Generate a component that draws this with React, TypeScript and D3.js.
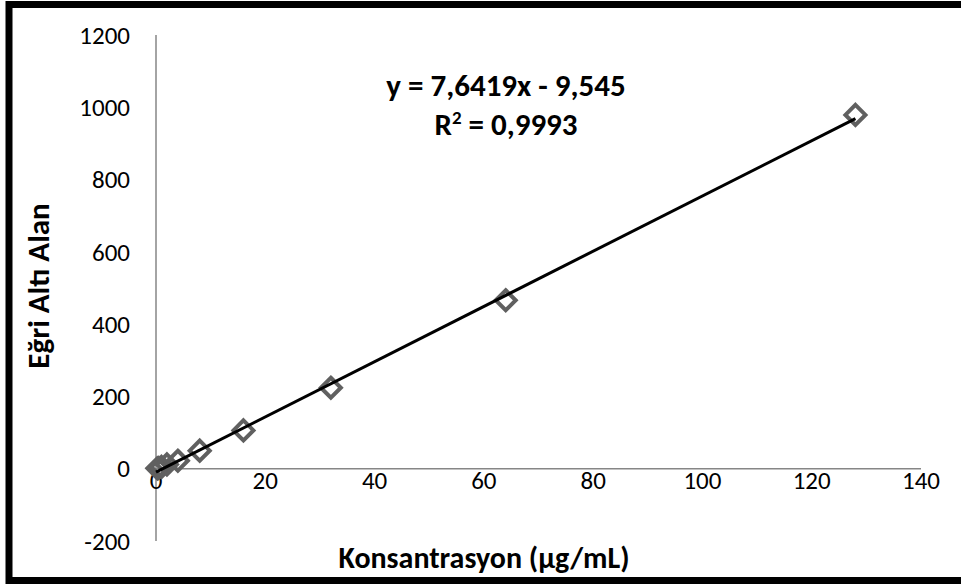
import React from "react";
import * as d3 from "d3";

const concentrations = [0.25, 0.5, 1, 2, 4, 8, 16, 32, 64, 128];
const areas = [1, 2, 5, 12, 22, 50, 106, 224, 466, 979];
const xTicks = [0, 20, 40, 60, 80, 100, 120, 140];
const yTicks = [-200, 0, 200, 400, 600, 800, 1000, 1200];
const slope = 7.6419;
const intercept = -9.545;
const equationText = "y = 7,6419x - 9,545";
const r2Label = "0,9993";
const xTitle = "Konsantrasyon (µg/mL)";
const yTitle = "Eğri Altı Alan";

export default function App() {
  const W = 961, H = 585;
  const x = d3.scaleLinear().domain([0, 140]).range([156, 921]);
  const y = d3.scaleLinear().domain([-200, 1200]).range([541, 35]);
  const font = "Carlito, Calibri, Lato, sans-serif";
  const axisColor = "#868686";
  const xs = d3.extent(concentrations) as [number, number];
  const line = d3.line<number>().x((d) => x(d)).y((d) => y(slope * d + intercept));
  const diamond = (cx: number, cy: number, r: number) =>
    `M${cx},${cy - r}L${cx + r},${cy}L${cx},${cy + r}L${cx - r},${cy}Z`;
  return (
    <svg width={W} height={H} style={{ position: "absolute", left: 0, top: 0, display: "block" }}>
      <rect x={0} y={0} width={W} height={H} fill="#fff" />
      <rect x={9} y={4.5} width={960} height={576} fill="#fff" stroke="#000" strokeWidth={7} />
      {/* axes */}
      <line x1={x(0)} x2={x(0)} y1={y(1200)} y2={y(-200)} stroke={axisColor} strokeWidth={1.5} />
      <line x1={x(0)} x2={x(140)} y1={y(0)} y2={y(0)} stroke={axisColor} strokeWidth={1.5} />
      {yTicks.map((t) => (
        <text key={"y" + t} x={130} y={y(t)} dy="0.35em" textAnchor="end" fontFamily={font} fontSize={25} fill="#000">
          {t}
        </text>
      ))}
      {xTicks.map((t) => (
        <text key={"x" + t} x={x(t)} y={y(0) + 12} dy="0.35em" textAnchor="middle" fontFamily={font} fontSize={25} fill="#000">
          {t}
        </text>
      ))}
      {/* markers */}
      {concentrations.map((c, i) => (
        <path key={i} d={diamond(x(c), y(areas[i]), 10)} fill="none" stroke="#606060" strokeWidth={4} strokeLinejoin="miter" />
      ))}
      {/* trendline */}
      <path d={line([0, xs[1]]) || ""} fill="none" stroke="#000" strokeWidth={3} />
      {/* equation */}
      <text x={506} y={96} textAnchor="middle" fontFamily={font} fontSize={31} fontWeight="bold">
        {equationText}
      </text>
      <text x={506} y={135} textAnchor="middle" fontFamily={font} fontSize={31} fontWeight="bold">
        R<tspan dy={-11} fontSize={19}>2</tspan>
        <tspan dy={11}>{" = " + r2Label}</tspan>
      </text>
      {/* titles */}
      <text x={484} y={568} textAnchor="middle" fontFamily={font} fontSize={30} fontWeight="bold">
        {xTitle}
      </text>
      <text transform={`translate(49,286) rotate(-90)`} textAnchor="middle" fontFamily={font} fontSize={31} fontWeight="bold">
        {yTitle}
      </text>
    </svg>
  );
}
